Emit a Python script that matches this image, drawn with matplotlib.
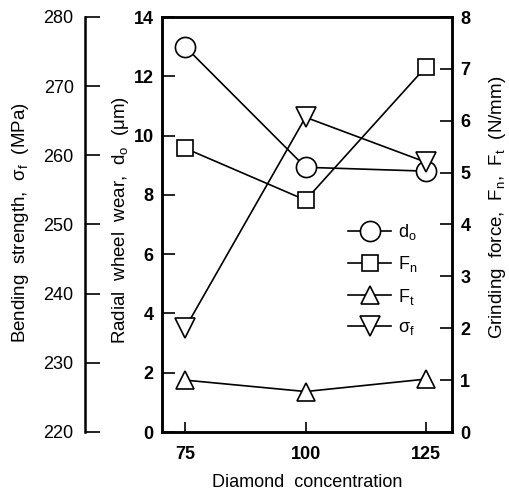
import numpy as np
import matplotlib.pyplot as plt
from matplotlib.lines import Line2D

plt.rcParams['font.family'] = ['Liberation Sans', 'DejaVu Sans']
plt.rcParams['mathtext.fontset'] = 'custom'
plt.rcParams['mathtext.rm'] = 'Liberation Sans'
plt.rcParams['mathtext.it'] = 'Liberation Sans:italic'
plt.rcParams['mathtext.bf'] = 'Liberation Sans:bold'

# data
conc = [75, 100, 125]
wear_do = [13.0, 8.93, 8.8]        # um, left axis
force_fn = [5.47, 4.47, 7.04]      # N/mm, right axis
force_ft = [1.0, 0.78, 1.02]       # N/mm, right axis
strength = [235.0, 265.5, 259.0]   # MPa, far left axis

W, H = 509, 490
fig = plt.figure(figsize=(W / 100, H / 100), dpi=100)
ax = fig.add_axes([162 / W, 58 / H, 290 / W, 415 / H])
ax_f = ax.twinx()
ax_s = ax.twinx()

fs = 13
lfs = 13.5
base = dict(color='black', lw=1.2, mfc='white', mec='black', mew=1.2)
st_o = dict(base, marker='o', ms=14.5)
st_s = dict(base, marker='s', ms=12)
st_u = dict(base, marker='^', ms=13)
st_d = dict(base, marker='v', ms=14)

ax.plot(conc, wear_do, **st_o, zorder=3)
ax_f.plot(conc, force_fn, **st_s)
ax_f.plot(conc, force_ft, **st_u)
ax_s.plot(conc, strength, **st_d)

ax.set_xlim(70.2, 130.4)
ax.set_ylim(0, 14)
ax_f.set_ylim(0, 8)
ax_s.set_ylim(220, 280)

ax.set_xticks(conc)
ax.set_yticks(np.arange(0, 15, 2))
ax_f.set_yticks(np.arange(0, 9, 1))
ax_s.set_yticks(np.arange(220, 281, 10))

for a in (ax, ax_f, ax_s):
    for s in a.spines.values():
        s.set_linewidth(1.8)
    a.tick_params(direction='in', length=9, width=1.2, labelsize=fs, pad=6)
    for lab in a.get_xticklabels() + a.get_yticklabels():
        lab.set_fontweight('bold')

ax.tick_params(axis='x', length=7, pad=10)

# far left axis for bending strength
ax_s.spines['left'].set_position(('axes', -0.266))
ax_s.spines['left'].set_visible(True)
for k in ('right', 'top', 'bottom'):
    ax_s.spines[k].set_visible(False)
ax_s.yaxis.set_ticks_position('left')
ax_s.yaxis.set_label_position('left')
ax_s.tick_params(axis='y', length=11, pad=8)

ax.set_xlabel('Diamond  concentration', fontsize=fs, labelpad=8)
ax.set_ylabel(r'Radial  wheel  wear,  d$_\mathrm{o}$  ($\mathrm{\mu}$m)', fontsize=lfs)
ax_f.set_ylabel(r'Grinding  force,  F$_\mathrm{n}$,  F$_\mathrm{t}$  (N/mm)', fontsize=lfs)
ax_s.set_ylabel(r'Bending  strength,  $\mathrm{\sigma}_\mathrm{f}$  (MPa)', fontsize=lfs)
ax.yaxis.set_label_coords(-0.107, 0.51)
ax_s.yaxis.set_label_coords(-0.452, 0.505)
ax_f.yaxis.set_label_coords(1.121, 0.54)

handles = [Line2D([], [], **st_o), Line2D([], [], **st_s),
           Line2D([], [], **st_u), Line2D([], [], **st_d)]
labels = [r'd$_\mathrm{o}$', r'F$_\mathrm{n}$', r'F$_\mathrm{t}$', r'$\mathrm{\sigma}_\mathrm{f}$']
ax_s.legend(handles, labels, loc='upper left', bbox_to_anchor=(0.585, 0.545),
            frameon=False, fontsize=fs, handlelength=2.4, labelspacing=0.68,
            handletextpad=0.4)

fig.savefig('out.png', dpi=100)
